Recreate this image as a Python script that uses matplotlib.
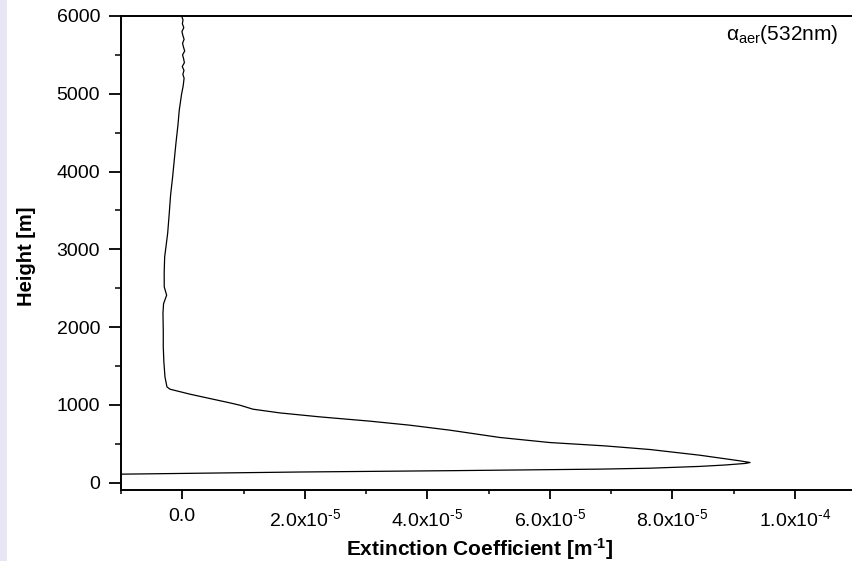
import matplotlib
matplotlib.use("Agg")
import matplotlib.pyplot as plt
from matplotlib.ticker import MultipleLocator, FixedLocator, FixedFormatter
from matplotlib.patches import Rectangle

plt.rcParams['font.family'] = ['Liberation Sans', 'DejaVu Sans']
plt.rcParams['mathtext.fontset'] = 'custom'
plt.rcParams['mathtext.rm'] = 'Liberation Sans'
plt.rcParams['mathtext.it'] = 'Liberation Sans:italic'
plt.rcParams['mathtext.bf'] = 'Liberation Sans:bold'

# extinction profile (top -> peak -> bottom)
height = [6000, 5950, 5900, 5850, 5800, 5750, 5700, 5650, 5600, 5550, 5500, 5450,
          5400, 5350, 5300, 5250, 5200, 5100, 5000, 4788, 4600, 4364, 4150, 3931,
          3700, 3464, 3206, 2902, 2700, 2516, 2409, 2300, 2178, 1950, 1744, 1550,
          1358, 1230, 1200, 1136, 1080, 1024, 994, 943, 895, 844, 789, 737,
          673, 579, 514, 471, 424, 351, 278, 257,
          245, 225, 207, 184, 172, 152, 135, 107]
ext = [-0.1e-6, 0.12e-6, 0.02e-6, 0.25e-6, -0.05e-6, 0.1e-6, 0.3e-6, 0.05e-6, 0.2e-6, 0.4e-6, 0.05e-6, 0.22e-6,
       0.35e-6, 0.0, 0.28e-6, 0.1e-6, 0.3e-6, 0.15e-6, -0.1e-6, -0.49e-6, -0.7e-6, -1.03e-6, -1.3e-6, -1.57e-6,
       -1.9e-6, -2.12e-6, -2.38e-6, -2.87e-6, -2.95e-6, -2.94e-6, -2.55e-6, -3.05e-6, -3.15e-6, -3.1e-6, -3.1e-6, -3.0e-6,
       -2.82e-6, -2.5e-6, -2.0e-6, 1.26e-6, 4.52e-6, 7.79e-6, 9.42e-6, 11.54e-6, 15.95e-6, 22.48e-6, 30.64e-6, 37.17e-6,
       43.7e-6, 51.86e-6, 60.0e-6, 69.0e-6, 76.4e-6, 84.5e-6, 91.1e-6, 92.7e-6,
       91.9e-6, 88.6e-6, 84.5e-6, 76.4e-6, 68.2e-6, 43.7e-6, 19.2e-6, -10.2e-6]

x_ticks = [0.0, 2e-5, 4e-5, 6e-5, 8e-5, 1e-4]
x_labels = ['0.0', '2.0x10$^{\\mathregular{\u20105}}$', '4.0x10$^{\\mathregular{\u20105}}$',
            '6.0x10$^{\\mathregular{\u20105}}$', '8.0x10$^{\\mathregular{\u20105}}$',
            '1.0x10$^{\\mathregular{\u20104}}$']
y_ticks = [0, 1000, 2000, 3000, 4000, 5000, 6000]

fig = plt.figure(figsize=(8.52, 5.61), dpi=100)
fig.patches.append(Rectangle((0, 0), 7 / 852, 1, transform=fig.transFigure,
                             facecolor='#e8e6f2', edgecolor='none'))

ax = fig.add_axes([121 / 852, 1 - 489.5 / 561, 735 / 852, 473.5 / 561])
ax.plot(ext, height, color='black', lw=0.9)
ax.set_xlim(-1e-5, 1.1e-4)
ax.set_ylim(-90, 6000)

ax.xaxis.set_major_locator(FixedLocator(x_ticks))
ax.xaxis.set_major_formatter(FixedFormatter(x_labels))
ax.xaxis.set_minor_locator(MultipleLocator(1e-5))
ax.yaxis.set_major_locator(FixedLocator(y_ticks))
ax.yaxis.set_minor_locator(MultipleLocator(500))

for s in ax.spines.values():
    s.set_linewidth(1.4)
ax.spines['right'].set_visible(False)

ax.tick_params(axis='y', which='major', direction='out', length=9, width=1.3, labelsize=14, pad=6)
ax.tick_params(axis='y', which='minor', direction='out', length=4.5, width=1.1)
ax.tick_params(axis='x', which='major', direction='out', length=6.5, width=1.3, labelsize=14, pad=7)
ax.tick_params(axis='x', which='minor', direction='out', length=3.2, width=1.1)

ax.set_xlabel('Extinction Coefficient [m$^{\\mathbf{\u20101}}$]', fontsize=15, fontweight='bold')
ax.set_ylabel('Height [m]', fontsize=14.5, fontweight='bold')
ax.xaxis.set_label_coords(0.488, -0.098)
ax.yaxis.set_label_coords(-0.115, 0.493)

ax.text((838 - 121) / 735, 0.985, 'α$_{\\mathregular{aer}}$(532nm)', transform=ax.transAxes,
        ha='right', va='top', fontsize=15)

fig.savefig('out.png', dpi=100)
